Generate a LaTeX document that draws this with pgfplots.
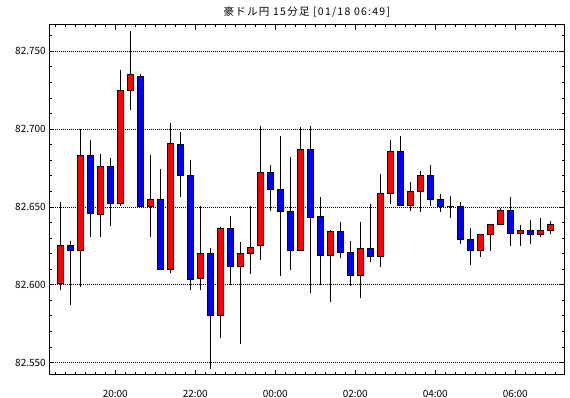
\documentclass[border=0pt]{standalone}
\usepackage{pgfplots}
\pgfplotsset{compat=1.18}
\usepackage{pgfplotstable}
\usepackage{fontspec}
\setmainfont{Noto Sans CJK JP}
\newfontfamily\titlefont[LetterSpace=12]{Noto Sans CJK JP}

% 15-minute candles: low, body bottom, body top, high,
% up: 1 = close above open (red), 0 = close below open (blue), 2 = doji
\pgfplotstableread{
pos low bot top high up
1 82.5969 82.6008 82.6250 82.6531 1
2 82.5873 82.6222 82.6250 82.6280 0
3 82.5986 82.6222 82.6831 82.7000 1
4 82.6308 82.6458 82.6831 82.6929 0
5 82.6308 82.6452 82.6760 82.6839 1
6 82.6379 82.6520 82.6760 82.6814 0
7 82.6507 82.6520 82.7249 82.7380 1
8 82.7122 82.7249 82.7352 82.7630 1
9 82.6503 82.6503 82.7339 82.7352 0
10 82.6308 82.6503 82.6548 82.6833 1
11 82.6098 82.6098 82.6548 82.6743 0
12 82.6077 82.6098 82.6908 82.7037 1
13 82.6565 82.6702 82.6902 82.6979 0
14 82.5969 82.6034 82.6702 82.6801 0
15 82.5969 82.6040 82.6201 82.6509 1
16 82.5461 82.5802 82.6201 82.6233 0
17 82.5661 82.5802 82.6362 82.6368 1
18 82.6001 82.6117 82.6362 82.6439 0
19 82.5622 82.6117 82.6201 82.6274 1
20 82.6072 82.6201 82.6239 82.6509 1
21 82.6162 82.6252 82.6722 82.7017 1
22 82.6475 82.6612 82.6722 82.6767 0
23 82.6059 82.6471 82.6612 82.6959 0
24 82.6092 82.6222 82.6471 82.6818 0
25 82.6222 82.6222 82.6869 82.7011 1
26 82.5950 82.6432 82.6869 82.7017 0
27 82.6001 82.6188 82.6439 82.6561 0
28 82.5892 82.6188 82.6342 82.6349 1
29 82.6169 82.6207 82.6342 82.6400 0
30 82.5989 82.6059 82.6207 82.6278 0
31 82.5918 82.6059 82.6233 82.6400 1
32 82.6143 82.6182 82.6233 82.6522 0
33 82.6111 82.6182 82.6587 82.6709 1
34 82.6522 82.6587 82.6857 82.6927 1
35 82.6509 82.6509 82.6857 82.6959 0
36 82.6477 82.6509 82.6599 82.6657 1
37 82.6467 82.6599 82.6702 82.6730 1
38 82.6503 82.6548 82.6702 82.6769 0
39 82.6469 82.6503 82.6548 82.6582 0
40 82.6430 82.6503 82.6504 82.6569 2
41 82.6259 82.6291 82.6503 82.6531 0
42 82.6128 82.6220 82.6291 82.6362 0
43 82.6179 82.6220 82.6323 82.6329 1
44 82.6220 82.6323 82.6387 82.6387 1
45 82.6387 82.6387 82.6477 82.6490 1
46 82.6252 82.6329 82.6477 82.6563 0
47 82.6252 82.6329 82.6349 82.6381 1
48 82.6259 82.6323 82.6349 82.6419 0
49 82.6310 82.6323 82.6349 82.6432 1
50 82.6323 82.6349 82.6387 82.6407 1
}\candles

\pgfplotsset{
  nomarks/.style={only marks, mark=*, mark size=0pt, mark options={draw=none, fill=none}},
  wick/.style={nomarks,
    error bars/y dir=plus, error bars/y explicit, error bars/error mark=none,
    error bars/error bar style={black, line width=1pt}},
  body outline/.style={nomarks,
    error bars/y dir=plus, error bars/y explicit, error bars/error mark=none,
    error bars/error bar style={black, line width=7pt, shorten <=-0.5pt, shorten >=-0.5pt}},
  body fill/.style={nomarks,
    error bars/y dir=plus, error bars/y explicit, error bars/error mark=none,
    error bars/error bar style={#1, line width=5pt, shorten <=0.5pt, shorten >=0.5pt}},
}

\begin{document}
\begin{tikzpicture}
\useasboundingbox (-49.3pt,-23.3pt) rectangle (520.7pt,374.7pt);
\begin{axis}[
  scale only axis, width=515.2pt, height=350pt,
  xmin=-0.1, xmax=51.42, ymin=82.5422, ymax=82.7671,
  axis line style={black, line width=0.9pt},
  tick align=inside, tick pos=both,
  xtick={6.5,14.5,22.5,30.5,38.5,46.5},
  xticklabels={20:00,22:00,00:00,02:00,04:00,06:00},
  minor xtick={0.5,1.5,...,50.5},
  ytick={82.55,82.60,82.65,82.70,82.75},
  yticklabels={82.550,82.600,82.650,82.700,82.750},
  minor ytick={82.55,82.56,82.57,82.58,82.59,82.60,82.61,82.62,82.63,82.64,82.65,82.66,82.67,82.68,82.69,82.70,82.71,82.72,82.73,82.74,82.75,82.76},
  major tick length=5pt, minor tick length=2.6pt,
  tick style={black, line width=0.8pt},
  ymajorgrids,
  major grid style={black, line width=0.7pt, dash pattern=on 1pt off 1pt},
  xticklabel pos=lower, yticklabel pos=left,
  xticklabel style={font=\fontsize{10}{12}\selectfont, yshift=-12pt},
  yticklabel style={font=\fontsize{10}{12}\selectfont},
  title={\titlefont 豪ドル円 15分足 [01/18 06:49]},
  title style={font=\fontsize{10.5}{12}\selectfont, yshift=-2.6pt},
]
% wicks: low to high
\addplot[wick] table[x=pos, y=low, y error expr=\thisrow{high}-\thisrow{low}] {\candles};
% body outlines
\addplot[body outline] table[x=pos, y=bot, y error expr=\thisrow{top}-\thisrow{bot}] {\candles};
% rising bodies
\addplot[restrict expr to domain={\thisrow{up}}{1:1}, body fill=red]
  table[x=pos, y=bot, y error expr=\thisrow{top}-\thisrow{bot}] {\candles};
% falling bodies
\addplot[restrict expr to domain={\thisrow{up}}{0:0}, body fill=blue]
  table[x=pos, y=bot, y error expr=\thisrow{top}-\thisrow{bot}] {\candles};
\end{axis}
\end{tikzpicture}
\end{document}
